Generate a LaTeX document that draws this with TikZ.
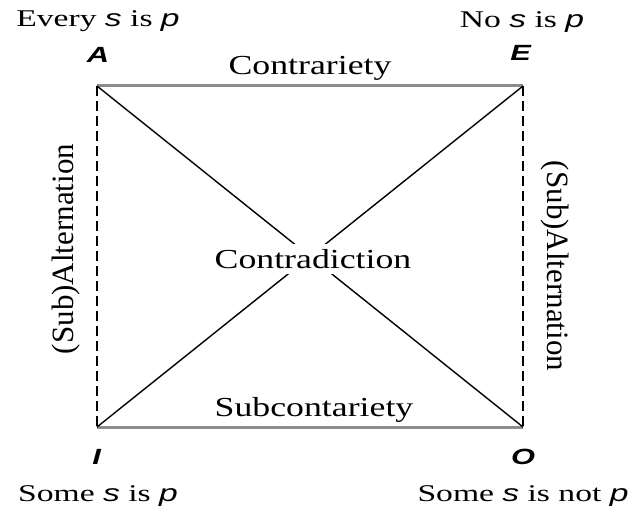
\documentclass[tikz,border=0pt]{standalone}
\usepackage{fontspec}
\setmainfont{Liberation Serif}
\setsansfont{Liberation Sans}
\newcommand{\sv}{\textsf{\textit{s}}}
\newcommand{\pv}{\textsf{\textit{p}}}
\newcommand{\cnr}[1]{\textsf{\textbf{\textit{#1}}}}

\begin{document}
\begin{tikzpicture}[x=1pt, y=-1pt,
  every node/.style={inner sep=0pt},
  corner/.style={font=\fontsize{22}{26}\selectfont, xscale=1.4},
  caption/.style={font=\fontsize{24}{28}\selectfont, xscale=1.4, anchor=base},
  relation/.style={font=\fontsize{27.5}{32}\selectfont, xscale=1.3, anchor=base},
  sidelabel/.style={font=\fontsize{31}{36}\selectfont},
  contrary/.style={line width=3pt, draw=black!45},
  altern/.style={line width=1.3pt, dash pattern=on 10pt off 5pt},
  contra/.style={line width=1.4pt}]
\useasboundingbox (0,0) rectangle (634,508);
% --- square corners ---
\coordinate (A) at (97,86);
\coordinate (E) at (523,86);
\coordinate (I) at (97,427);
\coordinate (O) at (523,427);
% --- sides and diagonals ---
\draw[contrary] (A) -- (E);
\draw[contrary] (I) -- (O);
\draw[altern]   (A) -- (I);
\draw[altern]   (E) -- (O);
\draw[contra]   (A) -- (O);
\draw[contra]   (E) -- (I);
\node[font=\fontsize{27.5}{32}\selectfont, xscale=1.3, fill=white,
      minimum height=30pt, inner xsep=2pt] (contradiction) at (313,259) {Contradiction};
% --- relation labels ---
\node[relation] (contrariety) at (310,75)  {Contrariety};
\node[relation] (subcontr)    at (314,416) {Subcontariety};
\node[sidelabel, rotate=90]  (altleft)  at (66,249)  {(Sub)Alternation};
\node[sidelabel, rotate=-90] (altright) at (555,266) {(Sub)Alternation};
% --- corner letters ---
\node[corner] (lA) at (98,55)  {\cnr{A}};
\node[corner] (lE) at (521,53) {\cnr{E}};
\node[corner] (lI) at (97,457) {\cnr{I}};
\node[corner] (lO) at (523,457) {\cnr{O}};
% --- propositions ---
\node[caption] (pA) at (98,27)  {Every \sv\ is \pv};
\node[caption] (pE) at (522,28) {No \sv\ is \pv};
\node[caption] (pI) at (98,501) {Some \sv\ is \pv};
\node[caption] (pO) at (523,501) {Some \sv\ is not \pv};
\end{tikzpicture}
\end{document}
